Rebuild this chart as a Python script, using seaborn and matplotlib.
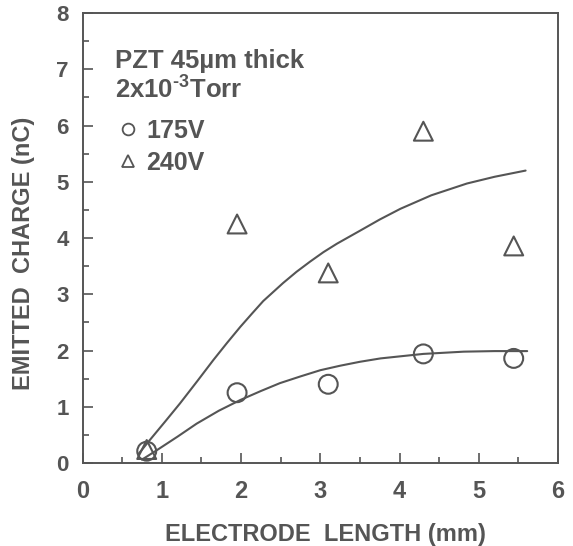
import numpy as np
import pandas as pd
import matplotlib
matplotlib.use("Agg")
import matplotlib.pyplot as plt
import seaborn as sns

# measured points
length_mm = [0.81, 1.95, 3.10, 4.30, 5.44]
charge_175 = [0.21, 1.25, 1.40, 1.94, 1.86]
charge_240 = [0.24, 4.25, 3.38, 5.90, 3.86]

# hand-drawn trend curves
fit_x_240 = [0.70, 0.85, 1.05, 1.23, 1.45, 1.65, 1.82, 1.99, 2.14, 2.28, 2.53, 2.70, 2.87, 3.04, 3.21, 3.50, 3.75, 4.01, 4.40, 4.85, 5.20, 5.59]
fit_y_240 = [0.15, 0.41, 0.75, 1.06, 1.46, 1.83, 2.13, 2.42, 2.66, 2.88, 3.20, 3.40, 3.58, 3.75, 3.90, 4.13, 4.33, 4.52, 4.76, 4.97, 5.09, 5.20]
fit_x_175 = [0.75, 0.94, 1.20, 1.44, 1.72, 1.99, 2.25, 2.49, 2.75, 3.00, 3.25, 3.50, 3.76, 4.30, 4.81, 5.20, 5.61]
fit_y_175 = [0.06, 0.23, 0.47, 0.70, 0.93, 1.12, 1.28, 1.42, 1.54, 1.65, 1.73, 1.80, 1.86, 1.94, 1.98, 1.99, 1.99]

ink = "#555555"

sns.set_style("ticks")
plt.rcParams["font.family"] = ["Liberation Sans", "DejaVu Sans"]
plt.rcParams["font.weight"] = "bold"
plt.rcParams["mathtext.fontset"] = "custom"
plt.rcParams["mathtext.rm"] = "Liberation Sans:bold"
plt.rcParams["mathtext.bf"] = "Liberation Sans:bold"

fig = plt.figure(figsize=(5.73, 5.46), dpi=100)
ax = fig.add_axes([0.144, 0.152, 0.830, 0.824])

sns.lineplot(x=fit_x_240, y=fit_y_240, ax=ax, color=ink, lw=1.5, sort=False)
sns.lineplot(x=fit_x_175, y=fit_y_175, ax=ax, color=ink, lw=1.5, sort=False)

pts = pd.DataFrame({
    "x": length_mm * 2,
    "y": charge_175 + charge_240,
    "volt": ["175V"] * 5 + ["240V"] * 5,
})
sns.scatterplot(data=pts, x="x", y="y", style="volt", markers={"175V": "o", "240V": "^"},
                s=185, facecolor="none", edgecolor=ink, linewidth=1.5, ax=ax, zorder=3)

# header lines of the key
ax.text(0.41, 7.03, "PZT 45\u00b5m thick", fontsize=18.5, fontweight="bold", color=ink, va="baseline")
ax.text(0.41, 6.50, "2x10$^{\\text{-3}}$Torr", fontsize=18.5, fontweight="bold", color=ink, va="baseline")

leg = ax.legend(loc="upper left", bbox_to_anchor=(0.066, 0.765), frameon=False,
                borderpad=0, borderaxespad=0, handlelength=1.1, handletextpad=0.2,
                labelspacing=0.33, markerscale=0.62, prop={"size": 18, "weight": "bold"})
for t in leg.get_texts():
    t.set_color(ink)
for h in leg.legend_handles:
    h.set_markerfacecolor("none")
    h.set_markeredgecolor(ink)
    h.set_markeredgewidth(1.3)

ax.set_xlim(0, 6)
ax.set_ylim(0, 8)
ax.set_xticks(np.arange(0, 7, 1))
ax.set_xticks(np.arange(0.5, 6, 1), minor=True)
ax.set_yticks(np.arange(0, 9, 1))
ax.set_yticks(np.arange(0.5, 8, 1), minor=True)
ax.tick_params(which="both", direction="in", color=ink, width=1.2, labelcolor=ink)
ax.tick_params(which="major", length=7)
ax.tick_params(which="minor", length=4)
ax.tick_params(axis="x", labelsize=17, pad=12)
ax.tick_params(axis="y", labelsize=16, pad=10)
for lab in ax.get_xticklabels() + ax.get_yticklabels():
    lab.set_fontweight("bold")
for sp in ax.spines.values():
    sp.set_visible(True)
    sp.set_color(ink)
    sp.set_linewidth(1.4)

ax.set_xlabel("ELECTRODE  LENGTH (mm)", fontsize=17, fontweight="bold", color=ink)
ax.set_ylabel("EMITTED  CHARGE (nC)", fontsize=17, fontweight="bold", color=ink)
ax.xaxis.set_label_coords(0.51, -0.133)
ax.yaxis.set_label_coords(-0.10, 0.465)

fig.savefig("out.png", dpi=100)
